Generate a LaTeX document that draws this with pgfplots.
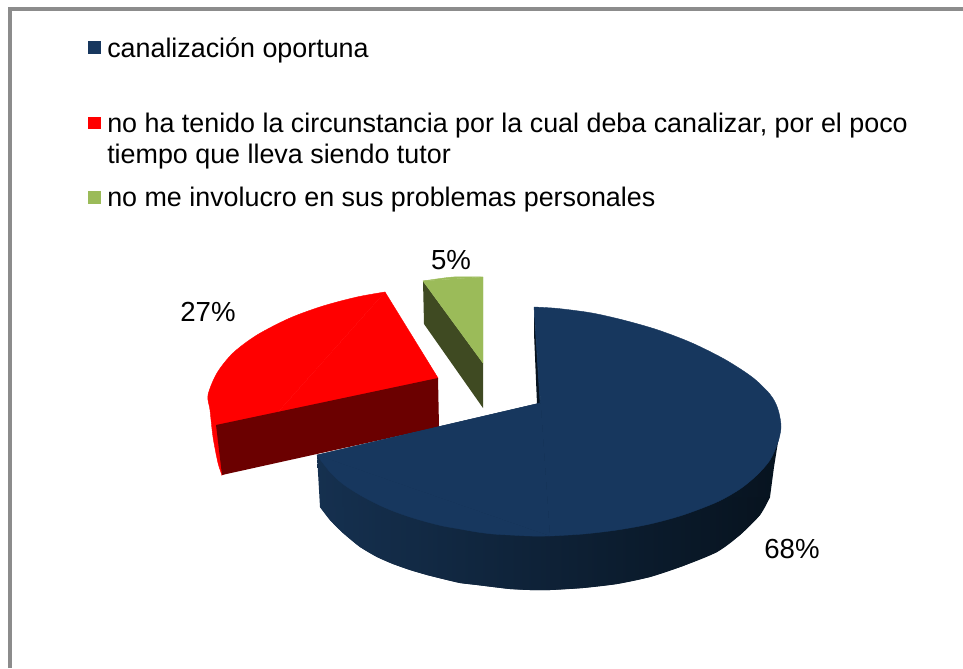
\documentclass[border=0pt]{standalone}
\usepackage{fontspec}
\setmainfont{Liberation Sans}
\usepackage{pgfplots}
\pgfplotsset{compat=1.18}
\definecolor{navy}{HTML}{17375E}
\definecolor{navyL}{HTML}{15304F}
\definecolor{navyM}{HTML}{0E1F33}
\definecolor{navyR}{HTML}{07131F}
\definecolor{dred}{HTML}{6B0000}
\definecolor{gr}{HTML}{9BBB59}
\definecolor{dgr}{HTML}{3F4A22}
\definecolor{frame}{HTML}{8C8C8C}
\begin{document}
\begin{tikzpicture}
\path[use as bounding box] (0,0) rectangle (722.25pt,501pt);
\begin{axis}[
  at={(0,0)}, anchor=south west,
  scale only axis, width=722.25pt, height=501pt,
  xmin=0, xmax=963, ymin=0, ymax=668, y dir=reverse,
  axis lines=none, clip=true,
  nodes={inner sep=0pt, font=\fontsize{20.15}{24}\selectfont},
  piece/.style={fill=#1, draw=#1, line width=0.3pt},
]
% frame
\addplot[frame, line width=3pt, forget plot] coordinates {(10,668) (10,9) (963,9)};
% green slice
\addplot[fill=dgr, draw=none] coordinates {(423,281) (483,363) (483,408) (424,324)} -- cycle;
\addplot[piece=gr] coordinates {(423,281) (483,363) (483,277)} -- cycle;
\addplot[piece=gr, smooth] coordinates {(423,281) (453,277) (483,277)};
% red slice
\addplot[piece=red, smooth] coordinates {(385,292) (357,297) (323,306) (290,318) (257,335) (233,353) (217,373) (208,395) (210,410) (213,437) (218,463) (222,475)};
\addplot[piece=red] coordinates {(385,292) (438,378) (222,475)} -- cycle;
\addplot[fill=dred, draw=none] coordinates {(216,425) (438,378) (439,427) (222,475)} -- cycle;
% blue slice: side wall
\addplot[left color=navyL, middle color=navyM, right color=navyR, draw=none] coordinates {(317,455) (320,507) (330,520) (343,533) (360,547) (377,557) (393,564) (410,570) (427,575) (443,579) (460,583) (477,585) (493,587) (510,589) (530,590) (550,590) (583,588) (617,584) (650,577) (683,566) (717,552) (740,535) (760,515) (770,497) (774,467) (778,442) (781,427) (540,403)} -- cycle;
\addplot[left color=navyL, middle color=navyM, right color=navyR, draw=none, smooth] coordinates {(320,507) (330,520) (343,533) (360,547) (377,557) (393,564) (410,570) (427,575) (443,579) (460,583) (477,585) (493,587) (510,589) (530,590) (550,590) (583,588) (617,584) (650,577) (683,566) (717,552) (740,535) (760,515) (770,497)};
\addplot[fill=navyR, draw=none] coordinates {(534,307) (534,333) (537,404) (541,404)} -- cycle;
% blue slice: top
\addplot[piece=navy, smooth] coordinates {(534,307) (558,308.5) (592,313) (625,320.5) (658,330) (692,343) (725,359.5) (752,377) (768,392) (775,402) (779,413) (781,427) (778,442) (770,460) (757,475) (740,489) (717,502) (683,515) (650,524) (617,530) (583,534) (550,536)};
\addplot[piece=navy, smooth] coordinates {(550,536) (530,536) (510,535) (493,534) (477,532) (460,529) (443,526) (427,522) (410,517) (393,511) (377,504) (360,495) (343,484) (330,472) (317,455)};
\addplot[piece=navy] coordinates {(534,307) (540,403) (317,455) (550,536)} -- cycle;
% legend keys
\addplot[fill=navy, draw=none] coordinates {(88,41) (101,41) (101,54) (88,54)} -- cycle;
\addplot[fill=red, draw=none] coordinates {(88,117) (101,117) (101,129) (88,129)} -- cycle;
\addplot[fill=gr, draw=none] coordinates {(88,191) (101,191) (101,204) (88,204)} -- cycle;
% legend text
\node[anchor=base west] at (axis cs:107,57) {canalización oportuna};
\node[anchor=base west] at (axis cs:107,132) {no ha tenido la circunstancia por la cual deba canalizar, por el poco};
\node[anchor=base west] at (axis cs:107,163) {tiempo que lleva siendo tutor};
\node[anchor=base west] at (axis cs:107,206) {no me involucro en sus problemas personales};
% data labels
\node[anchor=base, font=\fontsize{20.7}{24}\selectfont] at (axis cs:451,269) {5\%};
\node[anchor=base, font=\fontsize{20.7}{24}\selectfont] at (axis cs:208,321) {27\%};
\node[anchor=base, font=\fontsize{20.7}{24}\selectfont] at (axis cs:792,558) {68\%};
\end{axis}
\end{tikzpicture}
\end{document}
